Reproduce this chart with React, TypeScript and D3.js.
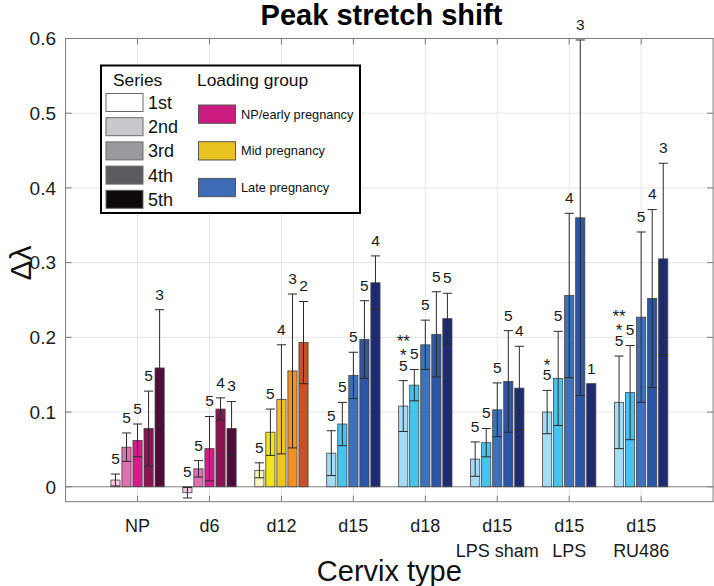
import React from "react";
import * as d3 from "d3";

const categoriesLine1 = ["NP", "d6", "d12", "d15", "d18", "d15", "d15", "d15"];
const categoriesLine2 = ["", "", "", "", "", "LPS sham", "LPS", "RU486"];
const seriesNames = ["1st", "2nd", "3rd", "4th", "5th"];

// mean values per category (5 series each)
const meanNP = [0.009, 0.053, 0.062, 0.078, 0.159];
const meanD6 = [-0.008, 0.024, 0.051, 0.104, 0.078];
const meanD12 = [0.022, 0.073, 0.117, 0.155, 0.193];
const meanD15 = [0.045, 0.084, 0.149, 0.197, 0.273];
const meanD18 = [0.108, 0.136, 0.19, 0.204, 0.225];
const meanSham = [0.037, 0.059, 0.103, 0.141, 0.132];
const meanLPS = [0.1, 0.145, 0.256, 0.36, 0.138];
const meanRU = [0.113, 0.126, 0.227, 0.252, 0.305];

// standard deviations
const sdNP = [0.008, 0.019, 0.022, 0.05, 0.078];
const sdD6 = [0.007, 0.011, 0.043, 0.015, 0.036];
const sdD12 = [0.01, 0.031, 0.073, 0.103, 0.055];
const sdD15 = [0.03, 0.029, 0.031, 0.052, 0.036];
const sdD18 = [0.034, 0.021, 0.033, 0.057, 0.034];
const sdSham = [0.023, 0.019, 0.036, 0.068, 0.056];
const sdLPS = [0.029, 0.063, 0.11, 0.238, 0];
const sdRU = [0.062, 0.063, 0.114, 0.119, 0.128];

// sample sizes
const nNP = [5, 5, 5, 5, 3];
const nD6 = [5, 5, 5, 4, 3];
const nD12 = [5, 5, 4, 3, 2];
const nD15 = [5, 5, 5, 5, 4];
const nD18 = [5, 5, 5, 5, 5];
const nSham = [5, 5, 5, 5, 4];
const nLPS = [5, 5, 4, 3, 1];
const nRU = [5, 5, 5, 4, 3];

// significance stars (above the first series)
const starsD18 = ["**", "*"];
const starsLPS = ["*"];
const starsRU = ["**", "*"];

const pinkColors = ["#f5c8e1", "#e26fb3", "#d71b8b", "#8c1351", "#4f0c3b"];
const yellowColors = ["#faf5bf", "#f1e41c", "#eec41f", "#f29225", "#c8502a"];
const blueColors = ["#a4dcf6", "#46c3ef", "#3d71bc", "#2b55a6", "#1f2b71"];
const seriesGray = ["#ffffff", "#c8c9cc", "#9a9a9e", "#5c5c60", "#0d090d"];
const groupLegend = ["NP/early pregnancy", "Mid pregnancy", "Late pregnancy"];
const groupLegendColors = ["#cc1b80", "#e9c421", "#3d6cb5"];
const yTicks = [0, 0.1, 0.2, 0.3, 0.4, 0.5, 0.6];

const means = [meanNP, meanD6, meanD12, meanD15, meanD18, meanSham, meanLPS, meanRU];
const sds = [sdNP, sdD6, sdD12, sdD15, sdD18, sdSham, sdLPS, sdRU];
const ns = [nNP, nD6, nD12, nD15, nD18, nSham, nLPS, nRU];
const stars = [[], [], [], [], starsD18, [], starsLPS, starsRU];
const palettes = [pinkColors, pinkColors, yellowColors, blueColors, blueColors, blueColors, blueColors, blueColors];

const FONT = "'Liberation Sans', Arial, Helvetica, sans-serif";

export default function App() {
  const W = 714;
  const H = 586;
  const left = 65.6;
  const right = 713.1;
  const top = 38.5;
  const bottom = 501.7;

  const x = d3.scaleLinear().domain([0, 9]).range([left, right]);
  const y = d3.scaleLinear().domain([-0.02, 0.6]).range([bottom, top]);
  const inner = d3
    .scaleBand<number>()
    .domain([0, 1, 2, 3, 4])
    .range([-27.6, 27.6])
    .paddingInner(0.17)
    .paddingOuter(0.085);
  const bw = inner.bandwidth();
  const tickLen = 6;
  const axisColor = "#7c7c7c";

  return (
    <svg
      width={W}
      height={H}
      style={{ position: "absolute", left: 0, top: 0, background: "#fff" }}
      fontFamily={FONT}
    >
      {/* grid */}
      {yTicks.map((t) => (
        <line key={"gy" + t} x1={left} x2={right} y1={y(t)} y2={y(t)} stroke="#e6e6e6" strokeWidth={1} />
      ))}
      {categoriesLine1.map((_, i) => (
        <line key={"gx" + i} x1={x(i + 1)} x2={x(i + 1)} y1={top} y2={bottom} stroke="#e6e6e6" strokeWidth={1} />
      ))}

      {/* baseline */}
      <line x1={left} x2={right} y1={y(0)} y2={y(0)} stroke="#8a8a8a" strokeWidth={1.2} />

      {/* bars */}
      {means.map((arr, ci) =>
        arr.map((v, si) => {
          const bx = x(ci + 1) + (inner(si) as number);
          const y0 = y(0);
          const yv = y(v);
          return (
            <rect
              key={"b" + ci + "-" + si}
              x={bx}
              y={Math.min(y0, yv)}
              width={bw}
              height={Math.abs(y0 - yv)}
              fill={palettes[ci][si]}
              stroke="#444"
              strokeWidth={0.8}
            />
          );
        })
      )}

      {/* error bars */}
      {means.map((arr, ci) =>
        arr.map((v, si) => {
          const s = sds[ci][si];
          if (!s) return null;
          const cx = x(ci + 1) + (inner(si) as number) + bw / 2;
          const yt = y(v + s);
          const yb = y(v - s);
          const hw = bw / 2;
          return (
            <g key={"e" + ci + "-" + si} stroke="#2a2a2a" strokeWidth={1}>
              <line x1={cx} x2={cx} y1={yt} y2={yb} />
              <line x1={cx - hw} x2={cx + hw} y1={yt} y2={yt} />
              <line x1={cx - hw} x2={cx + hw} y1={yb} y2={yb} />
            </g>
          );
        })
      )}

      {/* n labels and stars */}
      {means.map((arr, ci) =>
        arr.map((v, si) => {
          const s = sds[ci][si];
          const cx = x(ci + 1) + (inner(si) as number) + bw / 2;
          const cy = y(Math.max(v, 0) + (v < 0 ? 0 : s) + 0.021);
          const st = si === 0 ? stars[ci] : [];
          return (
            <g key={"l" + ci + "-" + si} fill="#1a1a1a" textAnchor="middle">
              <text x={cx} y={cy} dy="0.36em" fontSize={15.5}>
                {ns[ci][si]}
              </text>
              {st.map((t, k) => (
                <text key={k} x={cx} y={cy - 14.5 * (st.length - k)} dy="0.62em" fontSize={17}>
                  {t}
                </text>
              ))}
            </g>
          );
        })
      )}

      {/* axes box */}
      <rect x={left} y={top} width={right - left} height={bottom - top} fill="none" stroke={axisColor} strokeWidth={1} />
      {yTicks.map((t) => (
        <g key={"ty" + t} stroke={axisColor}>
          <line x1={left} x2={left + tickLen} y1={y(t)} y2={y(t)} />
          <line x1={right} x2={right - tickLen} y1={y(t)} y2={y(t)} />
        </g>
      ))}
      {categoriesLine1.map((_, i) => (
        <g key={"tx" + i} stroke={axisColor}>
          <line x1={x(i + 1)} x2={x(i + 1)} y1={bottom} y2={bottom - tickLen} />
          <line x1={x(i + 1)} x2={x(i + 1)} y1={top} y2={top + tickLen} />
        </g>
      ))}

      {/* y tick labels */}
      {yTicks.map((t) => (
        <text key={"yl" + t} x={56} y={y(t)} dy="0.36em" textAnchor="end" fontSize={19} fill="#1a1a1a">
          {t === 0 ? "0" : t.toFixed(1)}
        </text>
      ))}

      {/* x tick labels */}
      {categoriesLine1.map((c, i) => (
        <g key={"xl" + i} textAnchor="middle" fontSize={18} fill="#1a1a1a">
          <text x={x(i + 1)} y={532}>
            {c}
          </text>
          {categoriesLine2[i] && (
            <text x={x(i + 1)} y={557}>
              {categoriesLine2[i]}
            </text>
          )}
        </g>
      ))}

      {/* axis titles */}
      <text x={(left + right) / 2} y={581} textAnchor="middle" fontSize={29} fill="#111">
        Cervix type
      </text>
      <text transform={`translate(31,263) rotate(-90)`} textAnchor="middle" fontSize={30} fill="#111">
        Δλ
      </text>
      <text x={381.5} y={25} textAnchor="middle" fontSize={29} fontWeight="bold" fill="#000">
        Peak stretch shift
      </text>

      {/* legend */}
      <g>
        <rect x={101} y={65.5} width={259} height={147.5} fill="#fff" stroke="#000" strokeWidth={2} />
        <text x={113} y={79.5} dy="0.36em" fontSize={17.4} fill="#111">
          Series
        </text>
        <text x={197} y={79.5} dy="0.36em" fontSize={17.4} fill="#111">
          Loading group
        </text>
        {seriesNames.map((s, i) => (
          <g key={"ls" + i}>
            <rect x={106} y={93.5 + i * 24.2} width={37} height={18} fill={seriesGray[i]} stroke="#6a6a6a" strokeWidth={1} />
            <text x={148} y={102.5 + i * 24.2} dy="0.36em" fontSize={18} fill="#111">
              {s}
            </text>
          </g>
        ))}
        {groupLegend.map((g, i) => (
          <g key={"lg" + i}>
            <rect x={198.5} y={105 + i * 36.7} width={37} height={18.3} fill={groupLegendColors[i]} stroke="#555" strokeWidth={1} />
            <text x={241} y={114 + i * 36.7} dy="0.36em" fontSize={12.8} fill="#111">
              {g}
            </text>
          </g>
        ))}
      </g>
    </svg>
  );
}
